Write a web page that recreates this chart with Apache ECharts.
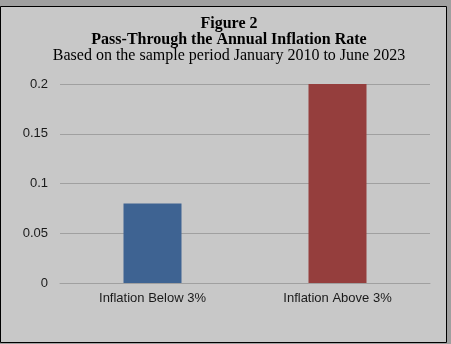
<!DOCTYPE html>
<html><head><meta charset="utf-8">
<script src="https://cdn.jsdelivr.net/npm/echarts@6/dist/echarts.min.js"></script>
<style>html,body{margin:0;padding:0;background:#a0a0a0;}#c{width:451px;height:344px;}</style>
</head><body><div id="c"></div>
<script>
const categories = ['Inflation Below 3%', 'Inflation Above 3%'];
const values = [0.08, 0.2];
const barColors = ['#3e6392', '#953e3d'];
const titleLines = ['Figure 2', 'Pass-Through the Annual Inflation Rate', 'Based on the sample period January 2010 to June 2023'];

const chart = echarts.init(document.getElementById('c'), null, {renderer: 'canvas'});
chart.setOption({
  backgroundColor: 'transparent',
  animation: false,
  graphic: [{
    type: 'rect', z: -10, silent: true,
    shape: {x: 0.5, y: 6.5, width: 446, height: 336},
    style: {fill: '#c8c8c8', stroke: '#000', lineWidth: 1}
  }],
  title: {
    left: 224, top: 11, textAlign: 'center',
    text: '{b|' + titleLines[0] + '}\n{b|' + titleLines[1] + '}\n{n|' + titleLines[2] + '}',
    textStyle: {
      rich: {
        b: {fontFamily: 'Liberation Serif', fontWeight: 'bold', fontSize: 16, lineHeight: 16, color: '#000'},
        n: {fontFamily: 'Liberation Serif', fontWeight: 'normal', fontSize: 16, lineHeight: 16, color: '#000'}
      }
    }
  },
  grid: {left: 60, right: 21, top: 84, bottom: 61, containLabel: false},
  xAxis: {
    type: 'category', data: categories,
    axisLine: {show: true, lineStyle: {color: '#a0a0a0'}},
    axisTick: {show: false},
    axisLabel: {color: '#1a1a1a', fontFamily: 'Liberation Sans', fontSize: 13, margin: 9}
  },
  yAxis: {
    type: 'value', min: 0, max: 0.2, interval: 0.05,
    axisLine: {show: false}, axisTick: {show: false},
    splitLine: {lineStyle: {color: '#a0a0a0'}},
    axisLabel: {color: '#1a1a1a', fontFamily: 'Liberation Sans', fontSize: 13, margin: 12,
      formatter: v => String(+v.toFixed(2))}
  },
  series: [{
    type: 'bar', barWidth: 58,
    data: values.map((v, i) => ({value: v, itemStyle: {color: barColors[i]}}))
  }]
});
</script></body></html>
